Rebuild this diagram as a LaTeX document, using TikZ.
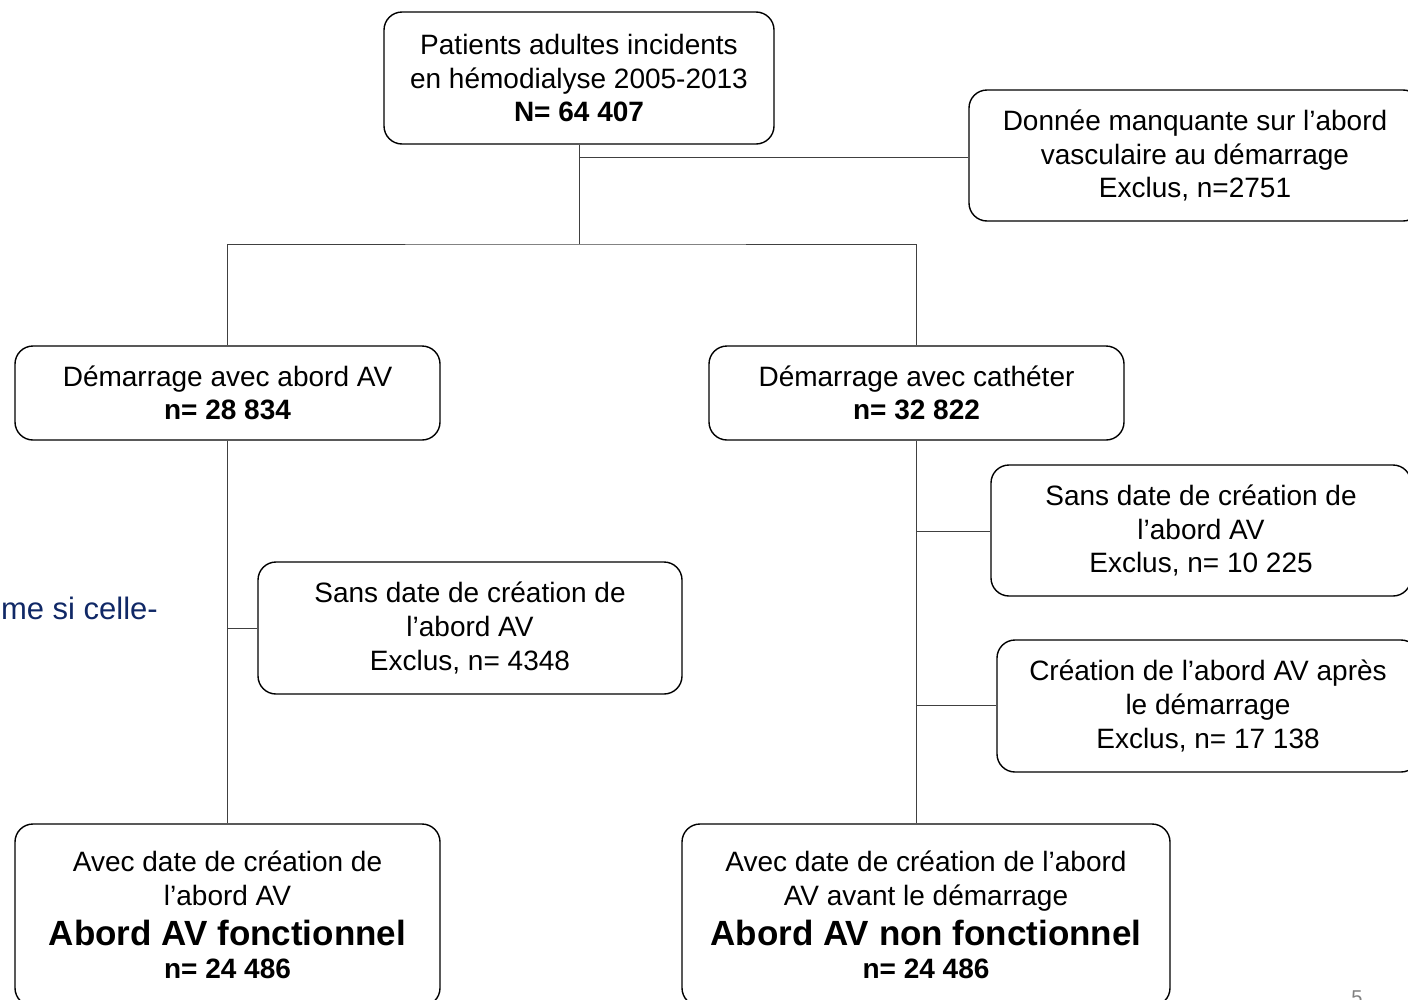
\documentclass[tikz,border=0pt]{standalone}
\usepackage{fontspec}
\setmainfont{Liberation Sans}
\begin{document}
\begin{tikzpicture}[x=1pt,y=-1pt,
  box/.style={draw=black, line width=1.4pt, rounded corners=18pt, align=center, inner sep=0pt,
    font=\fontsize{28}{33.6}\selectfont},
  conn/.style={draw=black!75, line width=0.9pt}]
\useasboundingbox (0,0) rectangle (1408,999);
% boxes
\node[box, minimum width=390pt, minimum height=132pt] (top) at (579,78)
  {Patients adultes incidents\\en hémodialyse 2005-2013\\\textbf{N= 64 407}};
\node[box, minimum width=452pt, minimum height=131pt] (miss) at (1195,155.5)
  {Donnée manquante sur l’abord\\vasculaire au démarrage\\Exclus, n=2751};
\node[box, minimum width=425pt, minimum height=94pt] (av) at (227.5,393)
  {Démarrage avec abord AV\\\textbf{n= 28 834}};
\node[box, minimum width=415pt, minimum height=94pt] (cath) at (916.5,393)
  {Démarrage avec cathéter\\\textbf{n= 32 822}};
\node[box, minimum width=424pt, minimum height=132pt] (sdl) at (470,628)
  {Sans date de création de\\l’abord AV\\Exclus, n= 4348};
\node[box, minimum width=420pt, minimum height=131pt] (sdr) at (1201,530.5)
  {Sans date de création de\\l’abord AV\\Exclus, n= 10 225};
\node[box, minimum width=422pt, minimum height=132pt] (apres) at (1208,706)
  {Création de l’abord AV après\\le démarrage\\Exclus, n= 17 138};
\node[box, minimum width=425pt, minimum height=182pt] (fonc) at (227.5,915)
  {Avec date de création de\\l’abord AV\\[7pt]{\fontsize{35}{40}\selectfont\bfseries Abord AV fonctionnel}\\[-1pt]\textbf{n= 24 486}};
\node[box, minimum width=488pt, minimum height=182pt] (nonfonc) at (926,915)
  {Avec date de création de l’abord\\AV avant le démarrage\\[7pt]{\fontsize{35}{40}\selectfont\bfseries Abord AV non fonctionnel}\\[-1pt]\textbf{n= 24 486}};
% connectors
\coordinate (split) at (579,244);
\coordinate (j1) at (579,157);
\coordinate (j2) at (228,628);
\coordinate (j3) at (917,531);
\coordinate (j4) at (917,705);
\draw[conn] (top.south) -- (split);
\draw[conn] (j1) -- (miss.west |- j1);
\draw[conn] (av.north) |- (split) -| (cath.north);
\draw[conn] (av.south) -- (fonc.north -| av.south);
\draw[conn] (j2) -- (sdl.west);
\draw[conn] (cath.south) -- (nonfonc.north -| cath.south);
\draw[conn] (j3) -- (sdr.west |- j3);
\draw[conn] (j4) -- (apres.west |- j4);
% stray texts
\node[anchor=base east, inner sep=0pt, text={rgb,255:red,16;green,40;blue,102},
  font=\fontsize{31}{36}\selectfont] (frag) at (158,619) {me si celle-};
\node[anchor=base, inner sep=0pt, text=black!50, font=\fontsize{20}{24}\selectfont] (pg) at (1357,1004) {5};
\end{tikzpicture}
\end{document}
